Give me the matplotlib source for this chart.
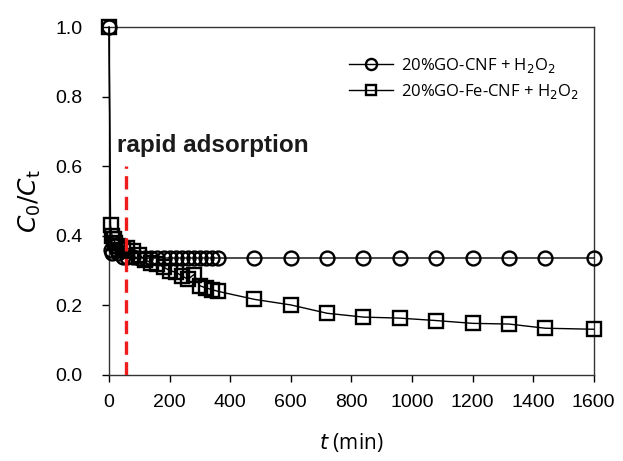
import matplotlib
matplotlib.use("Agg")
import matplotlib.pyplot as plt

# 20%GO-CNF + H2O2
t_cnf = [0, 5, 10, 15, 20, 25, 30, 45, 60, 80, 100, 120, 140, 160, 180, 200,
         220, 240, 260, 280, 300, 320, 340, 360, 480, 600, 720, 840, 960,
         1080, 1200, 1320, 1440, 1600]
c_cnf = [1.0, 0.36, 0.35, 0.38, 0.37, 0.36, 0.35, 0.34, 0.34, 0.338, 0.337,
         0.336, 0.336, 0.336, 0.336, 0.336, 0.336, 0.336, 0.336, 0.336, 0.336,
         0.336, 0.336, 0.336, 0.336, 0.336, 0.336, 0.336, 0.336, 0.336, 0.336,
         0.336, 0.336, 0.336]

# 20%GO-Fe-CNF + H2O2
t_fe = [0, 5, 10, 15, 20, 30, 45, 60, 80, 100, 120, 140, 160, 180, 200, 220,
        240, 260, 280, 300, 320, 340, 360, 480, 600, 720, 840, 960, 1080,
        1200, 1320, 1440, 1600]
c_fe = [1.0, 0.43, 0.40, 0.39, 0.38, 0.37, 0.36, 0.365, 0.355, 0.345, 0.33,
        0.322, 0.318, 0.31, 0.30, 0.295, 0.285, 0.275, 0.288, 0.256, 0.25,
        0.245, 0.24, 0.217, 0.201, 0.177, 0.166, 0.163, 0.156, 0.148, 0.146,
        0.134, 0.131]

t_rapid = 55

fig = plt.figure(figsize=(6.23, 4.61), dpi=100)
ax = fig.add_axes([0.175, 0.187, 0.778, 0.754])

ax.plot(t_cnf, c_cnf, color="black", lw=1.0, marker="o", ms=10,
        mfc="none", mec="black", mew=1.7, clip_on=False, zorder=3,
        label="20%GO-CNF + H$_2$O$_2$")
ax.plot(t_fe, c_fe, color="black", lw=1.0, marker="s", ms=9.5,
        mfc="none", mec="black", mew=1.7, clip_on=False, zorder=3,
        label="20%GO-Fe-CNF + H$_2$O$_2$")

ax.plot([t_rapid, t_rapid], [0, 0.6], color="#ee1c1c", lw=2.4,
        ls=(0, (4, 2.2)), zorder=4)
ax.text(25, 0.66, "rapid adsorption", fontsize=17.5, fontweight="bold",
        family="Liberation Sans", va="center", color="#1a1a1a")

ax.set_xlim(0, 1600)
ax.set_ylim(0, 1.0)
ax.set_xticks(range(0, 1601, 200))
ax.set_yticks([0.0, 0.2, 0.4, 0.6, 0.8, 1.0])
ax.set_yticklabels(["0.0", "0.2", "0.4", "0.6", "0.8", "1.0"])
ax.tick_params(direction="out", length=5, width=1, labelsize=14)
ax.tick_params(axis="y", pad=14)
ax.tick_params(axis="x", pad=9)
for lab in ax.get_xticklabels() + ax.get_yticklabels():
    lab.set_family("Liberation Sans")
for sp in ax.spines.values():
    sp.set_linewidth(1.0)
    sp.set_color("#333333")

ax.set_xlabel("$t$ (min)", fontsize=15, family="Open Sans", labelpad=14)
ax.set_ylabel("$C_0/C_\\mathrm{t}$", fontsize=18, family="Open Sans", labelpad=9)

leg = ax.legend(loc="upper right", bbox_to_anchor=(1.0, 0.96), frameon=False,
                handlelength=2.6, handletextpad=0.5, labelspacing=0.4,
                markerscale=0.8, prop={"family": "Open Sans", "size": 12})

fig.savefig("out.png", dpi=100)
